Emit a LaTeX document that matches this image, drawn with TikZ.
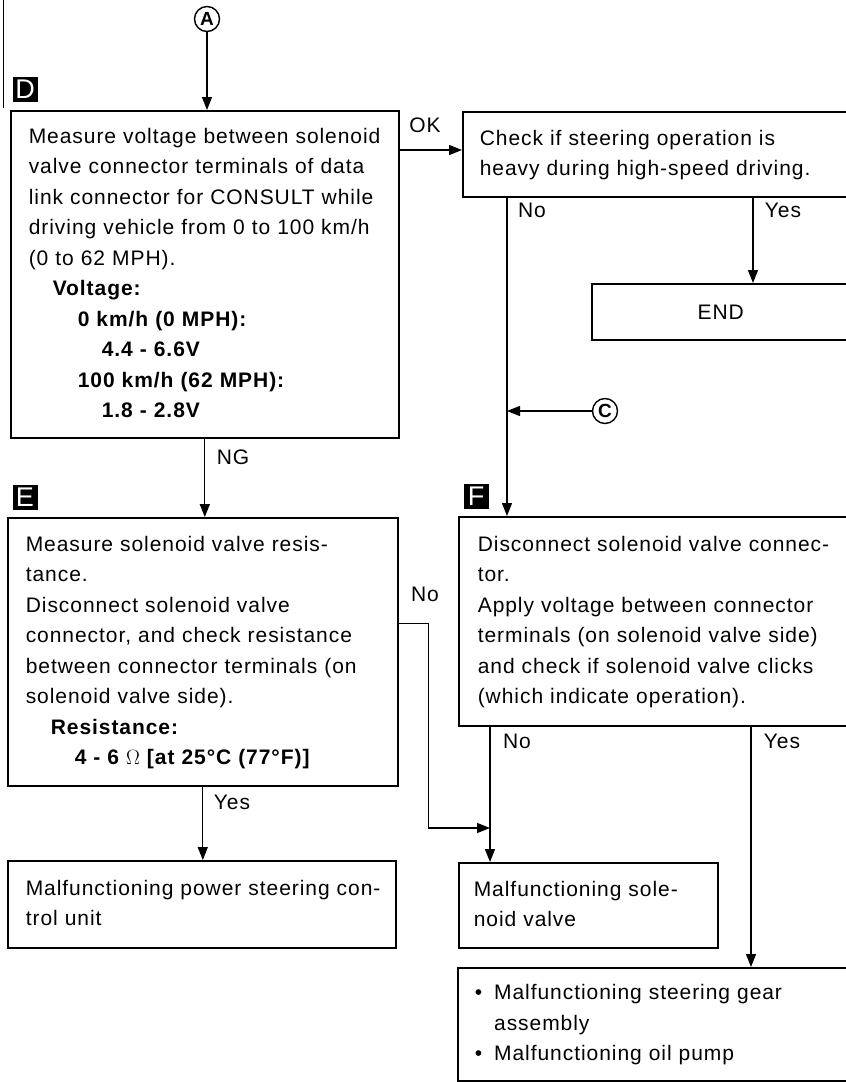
\documentclass[tikz,border=0pt]{standalone}
\usepackage{fontspec}
\setmainfont{Liberation Sans}[LetterSpace=4.5]
\usetikzlibrary{arrows.meta}
\newcommand{\boxlines}[1]{\noindent\begin{tabular}{@{}l@{}}#1\end{tabular}}

\begin{document}
\begin{tikzpicture}[x=1pt,y=-1pt,
  every node/.style={font=\fontsize{21}{30.5}\selectfont},
  box/.style={draw, line width=1.6pt, anchor=north west, align=left, inner ysep=0pt},
  arr/.style={line width=1.2pt, -{Triangle[length=13pt,width=10pt]}},
  lbl/.style={inner sep=0pt, text height=15pt, text depth=0pt},
  tag/.style={fill=black, text=white, inner sep=0pt, minimum width=25pt, minimum height=25pt, font=\fontsize{27}{27}\selectfont},
  circ/.style={draw, circle, line width=1.4pt, inner sep=0pt, minimum size=25pt, font=\bfseries\fontsize{19}{19}\selectfont}]
\useasboundingbox (0,0) rectangle (846,1082);
\fill[white] (0,0) rectangle (846,1082);
\clip (0,0) rectangle (846,1082);
\draw[line width=1pt] (3,0) -- (3,108);

% step D
\node[circ] (Acirc) at (207,19) {A};
\node[tag] (Dtag) at (25,89) {D};
\node[box, inner xsep=18pt, text width=352pt, minimum height=327pt] (Dbox) at (10,110) {\boxlines{
Measure voltage between solenoid\\
valve connector terminals of data\\
link connector for CONSULT while\\
driving vehicle from 0 to 100 km/h\\
(0 to 62 MPH).\\
\hspace*{24pt}\textbf{Voltage:}\\
\hspace*{49pt}\textbf{0 km/h (0 MPH):}\\
\hspace*{73pt}\textbf{4.4 - 6.6V}\\
\hspace*{49pt}\textbf{100 km/h (62 MPH):}\\
\hspace*{73pt}\textbf{1.8 - 2.8V}}};
\node[box, inner xsep=17pt, text width=353pt, minimum height=85pt] (Check) at (462,111) {\boxlines{
Check if steering operation is\\
heavy during high-speed driving.}};
\node[box, align=center, inner xsep=10pt, text width=238pt, minimum height=56pt] (Endbox) at (591,283) {END};

% step E
\node[tag] (Etag) at (25,497) {E};
\node[box, inner xsep=18pt, text width=354pt, minimum height=268pt] (Ebox) at (7,517) {\boxlines{
Measure solenoid valve resis-\\
tance.\\
Disconnect solenoid valve\\
connector, and check resistance\\
between connector terminals (on\\
solenoid valve side).\\
\hspace*{25pt}\textbf{Resistance:}\\
\hspace*{49pt}\textbf{4 - 6 $\Omega$ [at 25°C (77°F)]}}};
\node[box, inner xsep=18pt, text width=352pt, minimum height=87pt] (PSbox) at (7,860) {\boxlines{
Malfunctioning power steering con-\\
trol unit}};

% step F
\node[circ] (Ccirc) at (605,411) {C};
\node[tag] (Ftag) at (476,496) {F};
\node[box, inner xsep=19pt, text width=353pt, minimum height=209pt] (Fbox) at (458,516) {\boxlines{
Disconnect solenoid valve connec-\\
tor.\\
Apply voltage between connector\\
terminals (on solenoid valve side)\\
and check if solenoid valve clicks\\
(which indicate operation).}};
\node[box, inner xsep=15pt, text width=229pt, minimum height=85pt] (Solbox) at (458,862) {\boxlines{
Malfunctioning sole-\\
noid valve}};
\node[box, inner xsep=17pt, text width=358pt, minimum height=113pt] (Botbox) at (457,967) {\noindent\begin{tabular}{@{}l@{\hspace{12pt}}l@{}}
\textbullet & Malfunctioning steering gear\\
 & assembly\\
\textbullet & Malfunctioning oil pump
\end{tabular}};

% labels
\node[lbl] (okL) at (425,125) {OK};
\node[lbl] (noA) at (532,210) {No};
\node[lbl] (yesA) at (783,210) {Yes};
\node[lbl] (ngL) at (233,457) {NG};
\node[lbl] (noE) at (425,594) {No};
\node[lbl] (yesE) at (232,802) {Yes};
\node[lbl] (noF) at (517,741) {No};
\node[lbl] (yesF) at (782,741) {Yes};

% connectors
\coordinate (chkNo) at ([xshift=45pt]Check.south west);
\coordinate (chkYes) at ([xshift=291pt]Check.south west);
\coordinate (fNo) at ([xshift=32pt]Fbox.south west);
\coordinate (fYes) at ([xshift=293pt]Fbox.south west);
\draw[arr] (Acirc) -- (Acirc |- Dbox.north);
\draw[arr] (Dbox.east |- 0,150) -- (Check.west |- 0,150);
\draw[arr] (chkYes) -- (chkYes |- Endbox.north);
\draw[arr] (chkNo) -- (chkNo |- Fbox.north);
\draw[arr] (Ccirc) -- (Ccirc -| chkNo);
\draw[arr] (Dbox.south) -- (Dbox.south |- Ebox.north);
\draw[arr] ([yshift=28pt]Ebox.east) -- ++(30,0) |- (fNo |- 0,828);
\draw[arr] (fNo) -- (fNo |- Solbox.north);
\draw[arr] (fYes) -- (fYes |- Botbox.north);
\draw[arr] (Ebox.south) -- (Ebox.south |- PSbox.north);
\end{tikzpicture}
\end{document}
